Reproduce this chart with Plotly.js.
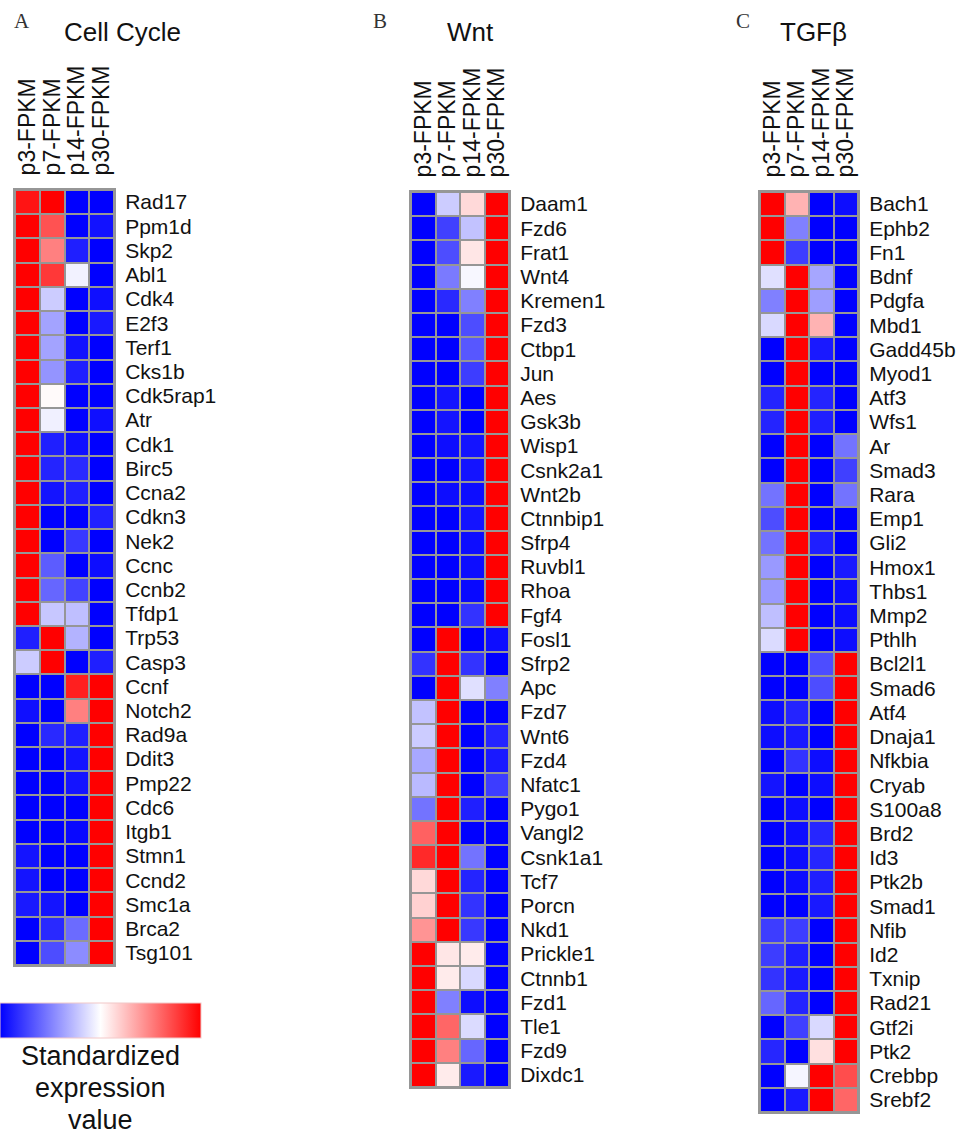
<!DOCTYPE html>
<html>
<head>
<meta charset="utf-8">
<script src="https://cdn.plot.ly/plotly-3.0.1.min.js"></script>
<style>
  html, body { margin: 0; padding: 0; background: #ffffff; }
  #chart { width: 976px; height: 1137px; }
</style>
</head>
<body>
<div id="chart"></div>
<script>
// Sample columns shared by all three heatmaps
const samples = ["p3-FPKM", "p7-FPKM", "p14-FPKM", "p30-FPKM"];

// Panel A: cell cycle genes (row-standardized expression)
const cellCycleGenes = ["Rad17","Ppm1d","Skp2","Abl1","Cdk4","E2f3","Terf1","Cks1b","Cdk5rap1","Atr",
  "Cdk1","Birc5","Ccna2","Cdkn3","Nek2","Ccnc","Ccnb2","Tfdp1","Trp53","Casp3",
  "Ccnf","Notch2","Rad9a","Ddit3","Pmp22","Cdc6","Itgb1","Stmn1","Ccnd2","Smc1a","Brca2","Tsg101"];
const cellCycleValues = [
  [0.92, 1, -1, -1],
  [1, 0.68, -1, -0.93],
  [1, 0.5, -0.88, -1],
  [1, 0.78, -0.05, -1],
  [1, -0.2, -1, -0.94],
  [1, -0.36, -1, -0.9],
  [1, -0.36, -0.93, -1],
  [1, -0.42, -0.88, -1],
  [1, 0.02, -1, -1],
  [1, -0.06, -1, -0.94],
  [1, -0.88, -0.94, -1],
  [1, -0.86, -0.84, -1],
  [1, -0.92, -0.88, -1],
  [1, -1, -1, -0.87],
  [1, -1, -0.78, -1],
  [1, -0.64, -1, -0.95],
  [1, -0.6, -0.74, -1],
  [1, -0.22, -0.25, -1],
  [-0.88, 1, -0.3, -1],
  [-0.2, 1, -1, -0.88],
  [-1, -1, 0.88, 1],
  [-0.94, -1, 0.5, 1],
  [-1, -0.84, -0.88, 1],
  [-1, -1, -0.92, 1],
  [-1, -1, -0.92, 1],
  [-1, -1, -1, 1],
  [-1, -1, -0.97, 1],
  [-0.92, -1, -1, 1],
  [-0.92, -1, -1, 1],
  [-0.9, -0.92, -1, 1],
  [-1, -0.84, -0.58, 1],
  [-1, -0.7, -0.45, 1]
];

// Panel B: Wnt pathway genes
const wntGenes = ["Daam1","Fzd6","Frat1","Wnt4","Kremen1","Fzd3","Ctbp1","Jun","Aes","Gsk3b",
  "Wisp1","Csnk2a1","Wnt2b","Ctnnbip1","Sfrp4","Ruvbl1","Rhoa","Fgf4","Fosl1","Sfrp2",
  "Apc","Fzd7","Wnt6","Fzd4","Nfatc1","Pygo1","Vangl2","Csnk1a1","Tcf7","Porcn",
  "Nkd1","Prickle1","Ctnnb1","Fzd1","Tle1","Fzd9","Dixdc1"];
const wntValues = [
  [-1, -0.2, 0.15, 1],
  [-1, -0.75, -0.24, 1],
  [-1, -0.7, 0.1, 1],
  [-1, -0.52, -0.03, 1],
  [-1, -0.84, -0.5, 1],
  [-1, -1, -0.7, 1],
  [-1, -1, -0.66, 1],
  [-1, -1, -0.76, 1],
  [-1, -0.92, -1, 1],
  [-1, -0.92, -1, 1],
  [-1, -0.95, -0.92, 1],
  [-1, -1, -0.92, 1],
  [-1, -0.95, -0.95, 1],
  [-1, -1, -0.92, 1],
  [-1, -1, -0.95, 1],
  [-1, -1, -0.95, 1],
  [-1, -1, -0.97, 1],
  [-1, -1, -0.8, 1],
  [-1, 1, -1, -0.95],
  [-0.8, 1, -0.8, -1],
  [-1, 1, -0.12, -0.5],
  [-0.24, 1, -1, -1],
  [-0.2, 1, -1, -0.86],
  [-0.34, 1, -1, -0.9],
  [-0.27, 1, -1, -0.76],
  [-0.55, 1, -0.88, -1],
  [0.62, 1, -1, -1],
  [0.84, 1, -0.55, -1],
  [0.15, 1, -0.86, -1],
  [0.18, 1, -0.8, -1],
  [0.42, 1, -0.78, -1],
  [1, 0.1, 0.08, -1],
  [1, 0.08, -0.15, -1],
  [1, -0.5, -0.95, -1],
  [1, 0.6, -0.14, -1],
  [1, 0.5, -0.6, -1],
  [1, 0.08, -0.9, -1]
];

// Panel C: TGFβ pathway genes
const tgfbGenes = ["Bach1","Ephb2","Fn1","Bdnf","Pdgfa","Mbd1","Gadd45b","Myod1","Atf3","Wfs1",
  "Ar","Smad3","Rara","Emp1","Gli2","Hmox1","Thbs1","Mmp2","Pthlh","Bcl2l1",
  "Smad6","Atf4","Dnaja1","Nfkbia","Cryab","S100a8","Brd2","Id3","Ptk2b","Smad1",
  "Nfib","Id2","Txnip","Rad21","Gtf2i","Ptk2","Crebbp","Srebf2"];
const tgfbValues = [
  [1, 0.3, -1, -0.95],
  [1, -0.5, -1, -1],
  [1, -0.76, -1, -1],
  [-0.12, 1, -0.35, -1],
  [-0.5, 1, -0.38, -1],
  [-0.15, 1, 0.3, -1],
  [-1, 1, -0.9, -1],
  [-1, 1, -1, -1],
  [-0.86, 1, -0.86, -1],
  [-0.86, 1, -0.88, -1],
  [-1, 1, -1, -0.55],
  [-1, 1, -1, -0.75],
  [-0.55, 1, -1, -0.55],
  [-0.7, 1, -1, -1],
  [-0.55, 1, -0.88, -1],
  [-0.4, 1, -1, -0.9],
  [-0.4, 1, -1, -0.95],
  [-0.25, 1, -1, -0.95],
  [-0.14, 1, -1, -0.95],
  [-1, -1, -0.7, 1],
  [-1, -1, -0.7, 1],
  [-0.95, -0.86, -1, 1],
  [-0.95, -0.9, -1, 1],
  [-1, -0.8, -0.95, 1],
  [-0.92, -1, -0.95, 1],
  [-1, -0.95, -1, 1],
  [-1, -0.95, -0.85, 1],
  [-1, -0.95, -0.85, 1],
  [-1, -0.95, -0.88, 1],
  [-1, -1, -0.9, 1],
  [-0.76, -0.76, -1, 1],
  [-0.76, -0.88, -1, 1],
  [-0.8, -0.9, -1, 1],
  [-0.6, -0.86, -1, 1],
  [-1, -0.75, -0.15, 1],
  [-0.85, -1, 0.12, 1],
  [-1, -0.04, 1, 0.7],
  [-1, -0.9, 1, 0.6]
];

const panelTitles = ["Cell Cycle", "Wnt", "TGFβ"];
const panelLetters = ["A", "B", "C"];

// ---- layout in pixels ----
const W = 976, H = 1137;
const px = v => v / W;
const py = v => 1 - v / H;
const gridColor = "#969696";
const labelFont = "Arial, 'Liberation Sans', sans-serif";

const panels = [
  { genes: cellCycleGenes, values: cellCycleValues, x0: 15, x1: 114, y0: 190, y1: 965,
    title: panelTitles[0], titleX: 62, letter: panelLetters[0], letterX: 12 },
  { genes: wntGenes, values: wntValues, x0: 411, x1: 509, y0: 192, y1: 1087,
    title: panelTitles[1], titleX: 445, letter: panelLetters[1], letterX: 371 },
  { genes: tgfbGenes, values: tgfbValues, x0: 760, x1: 858, y0: 192, y1: 1112,
    title: panelTitles[2], titleX: 778, letter: panelLetters[2], letterX: 734 }
];

const traces = [];
const layout = {
  width: W, height: H,
  margin: { l: 0, r: 0, t: 0, b: 0 },
  paper_bgcolor: "#ffffff",
  plot_bgcolor: gridColor,
  showlegend: false,
  font: { family: labelFont, color: "#111111" },
  coloraxis: {
    cmin: -1, cmax: 1,
    colorscale: [[0, "rgb(0,0,255)"], [0.5, "rgb(255,255,255)"], [1, "rgb(255,0,0)"]],
    colorbar: {
      orientation: "h",
      x: 0, xanchor: "left", len: 201, lenmode: "pixels",
      y: py(1003), yanchor: "top", thickness: 35, thicknessmode: "pixels",
      xpad: 0, ypad: 0,
      outlinewidth: 1, outlinecolor: "#f2c8c8",
      showticklabels: false, ticks: ""
    }
  },
  annotations: []
};

panels.forEach((p, i) => {
  const n = i === 0 ? "" : String(i + 1);
  traces.push({
    type: "heatmap",
    x: samples,
    y: p.genes,
    z: p.values,
    coloraxis: "coloraxis",
    xgap: 2, ygap: 2,
    xaxis: "x" + n, yaxis: "y" + n,
    hoverongaps: false
  });
  layout["xaxis" + n] = {
    domain: [px(p.x0), px(p.x1)],
    anchor: "y" + n,
    side: "top",
    tickmode: "array",
    tickvals: samples,
    ticktext: samples,
    tickangle: -90,
    ticks: "",
    ticklabelstandoff: 8,
    tickfont: { size: 23, family: labelFont, color: "#111111" },
    showgrid: false, zeroline: false,
    showline: true, mirror: true, linecolor: gridColor, linewidth: 2,
    fixedrange: true
  };
  layout["yaxis" + n] = {
    domain: [py(p.y1), py(p.y0)],
    anchor: "x" + n,
    side: "right",
    autorange: "reversed",
    tickmode: "array",
    tickvals: p.genes,
    ticktext: p.genes,
    ticks: "",
    ticklabelstandoff: 5,
    tickfont: { size: 21, family: labelFont, color: "#111111" },
    showgrid: false, zeroline: false,
    showline: true, mirror: true, linecolor: gridColor, linewidth: 2,
    fixedrange: true
  };
  layout.annotations.push({
    xref: "paper", yref: "paper", x: px(p.titleX), y: py(32),
    xanchor: "left", yanchor: "middle", showarrow: false,
    text: p.title, font: { size: 26, family: labelFont, color: "#111111" }
  });
  layout.annotations.push({
    xref: "paper", yref: "paper", x: px(p.letterX), y: py(21),
    xanchor: "left", yanchor: "middle", showarrow: false,
    text: p.letter, font: { size: 21, family: "'Liberation Serif', 'Times New Roman', serif", color: "#333333" }
  });
});

// Colour bar caption
["Standardized", "expression", "value"].forEach((line, k) => {
  layout.annotations.push({
    xref: "paper", yref: "paper", x: px(100), y: py(1056 + k * 32),
    xanchor: "center", yanchor: "middle", showarrow: false,
    text: line, font: { size: 27, family: labelFont, color: "#111111" }
  });
});

Plotly.newPlot("chart", traces, layout, { displayModeBar: false, staticPlot: true });
</script>
</body>
</html>
